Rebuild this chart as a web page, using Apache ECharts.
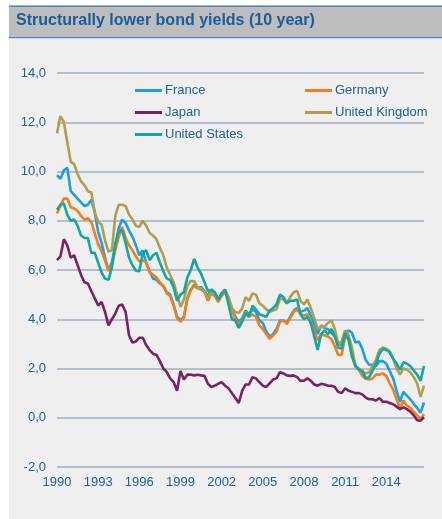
<!DOCTYPE html>
<html>
<head>
<meta charset="utf-8">
<script src="https://cdn.jsdelivr.net/npm/echarts@6/dist/echarts.min.js"></script>
<style>
  html, body { margin: 0; padding: 0; background: #fff; }
  #chart { width: 442px; height: 519px; }
</style>
</head>
<body>
<div id="chart"></div>
<script>
// quarterly observations, 1990 Q1 .. 2016 Q4
const quarters = [
  '1990Q1','1990Q2','1990Q3','1990Q4','1991Q1','1991Q2','1991Q3','1991Q4',
  '1992Q1','1992Q2','1992Q3','1992Q4','1993Q1','1993Q2','1993Q3','1993Q4',
  '1994Q1','1994Q2','1994Q3','1994Q4','1995Q1','1995Q2','1995Q3','1995Q4',
  '1996Q1','1996Q2','1996Q3','1996Q4','1997Q1','1997Q2','1997Q3','1997Q4',
  '1998Q1','1998Q2','1998Q3','1998Q4','1999Q1','1999Q2','1999Q3','1999Q4',
  '2000Q1','2000Q2','2000Q3','2000Q4','2001Q1','2001Q2','2001Q3','2001Q4',
  '2002Q1','2002Q2','2002Q3','2002Q4','2003Q1','2003Q2','2003Q3','2003Q4',
  '2004Q1','2004Q2','2004Q3','2004Q4','2005Q1','2005Q2','2005Q3','2005Q4',
  '2006Q1','2006Q2','2006Q3','2006Q4','2007Q1','2007Q2','2007Q3','2007Q4',
  '2008Q1','2008Q2','2008Q3','2008Q4','2009Q1','2009Q2','2009Q3','2009Q4',
  '2010Q1','2010Q2','2010Q3','2010Q4','2011Q1','2011Q2','2011Q3','2011Q4',
  '2012Q1','2012Q2','2012Q3','2012Q4','2013Q1','2013Q2','2013Q3','2013Q4',
  '2014Q1','2014Q2','2014Q3','2014Q4','2015Q1','2015Q2','2015Q3','2015Q4',
  '2016Q1','2016Q2','2016Q3','2016Q4'
];
// labelled years on the x axis
const tickYears = ['1990', '1993', '1996', '1999', '2002', '2005', '2008', '2011', '2014'];

const france = [
  9.85, 9.7, 10.05, 10.15, 9.2, 9.05, 8.9, 8.75,
  8.6, 8.65, 8.85, 8.35, 7.55, 7.1, 6.5, 6.0,
  6.3, 7.0, 7.7, 8.05, 7.9, 7.6, 7.35, 7.0,
  6.6, 6.8, 6.3, 5.95, 5.65, 5.6, 5.45, 5.35,
  5.1, 5.0, 4.6, 4.1, 3.95, 4.1, 4.85, 5.2,
  5.4, 5.3, 5.3, 5.15, 4.95, 5.2, 5.05, 4.8,
  5.0, 5.2, 4.85, 4.45, 4.1, 3.9, 4.05, 4.35,
  4.2, 4.4, 4.3, 3.95, 3.85, 3.5, 3.3, 3.4,
  3.6, 3.95, 3.95, 3.85, 4.1, 4.35, 4.45, 4.3,
  4.35, 4.45, 4.15, 3.8, 3.4, 3.75, 3.65, 3.6,
  3.45, 3.3, 3.0, 2.95, 3.4, 3.55, 3.45, 3.05,
  3.1, 2.8, 2.35, 2.15, 2.15, 2.1, 2.3, 2.3,
  2.2, 1.9, 1.6, 1.1, 0.65, 1.05, 0.9, 0.75,
  0.57, 0.4, 0.2, 0.62
];
const germany = [
  8.3, 8.6, 8.9, 8.9, 8.55, 8.5, 8.4, 8.2,
  8.05, 8.1, 7.95, 7.5, 7.05, 6.75, 6.4, 5.95,
  6.2, 6.8, 7.35, 7.75, 7.3, 7.0, 6.8, 6.55,
  6.35, 6.4, 6.3, 5.9, 5.8, 5.7, 5.5, 5.35,
  5.05, 4.95, 4.55, 4.05, 3.9, 4.05, 4.8, 5.2,
  5.35, 5.25, 5.25, 5.1, 4.75, 5.05, 4.95, 4.7,
  4.95, 5.1, 4.8, 4.4, 4.0, 3.8, 4.0, 4.3,
  4.1, 4.2, 4.1, 3.75, 3.6, 3.4, 3.2, 3.35,
  3.5, 3.9, 3.95, 3.8, 4.05, 4.3, 4.4, 4.2,
  4.15, 4.2, 3.85, 3.55, 3.15, 3.4, 3.35, 3.3,
  3.2, 2.9, 2.55, 2.55, 3.3, 3.2, 2.5, 2.1,
  1.95, 1.7, 1.58, 1.55, 1.6, 1.75, 1.75, 1.8,
  1.7, 1.4, 1.15, 0.75, 0.4, 0.7, 0.5, 0.4,
  0.25, 0.1, -0.05, 0.15
];
const japan = [
  6.4, 6.55, 7.25, 7.0, 6.5, 6.6, 6.2, 5.8,
  5.5, 5.45, 5.15, 4.85, 4.56, 4.7, 4.3, 3.75,
  4.0, 4.23, 4.55, 4.6, 4.3, 3.35, 3.05, 3.1,
  3.25, 3.25, 2.95, 2.75, 2.6, 2.55, 2.3, 2.0,
  1.85, 1.6, 1.45, 1.1, 1.9, 1.55, 1.75, 1.75,
  1.72, 1.75, 1.72, 1.7, 1.38, 1.25, 1.3, 1.38,
  1.45, 1.3, 1.2, 1.0, 0.8, 0.6, 1.1, 1.35,
  1.35, 1.65, 1.6, 1.45, 1.3, 1.25, 1.4, 1.55,
  1.6, 1.85, 1.8, 1.72, 1.7, 1.72, 1.65, 1.5,
  1.5, 1.6, 1.5, 1.35, 1.3, 1.38, 1.35, 1.3,
  1.3, 1.25, 1.05, 1.0, 1.2, 1.1, 1.05, 1.0,
  1.0, 0.95, 0.82, 0.75, 0.75, 0.7, 0.8, 0.65,
  0.65, 0.6, 0.55, 0.45, 0.35, 0.42, 0.35, 0.25,
  0.1, -0.1, -0.12, 0.02
];
const unitedKingdom = [
  11.55, 12.25, 12.0, 11.2, 10.4, 10.3, 9.9, 9.6,
  9.45, 9.2, 9.15, 8.35, 7.95, 7.85, 7.2, 6.75,
  6.8, 8.2, 8.65, 8.65, 8.6, 8.25, 8.05, 7.8,
  7.75, 8.0, 7.8, 7.5, 7.4, 7.25, 6.9, 6.6,
  6.1, 5.8, 5.5, 5.0, 4.5, 4.8, 5.35, 5.55,
  5.55, 5.3, 5.2, 5.15, 4.85, 5.15, 5.0, 4.8,
  5.05, 5.2, 4.9, 4.45, 4.3, 4.25, 4.45, 4.9,
  4.75, 5.05, 5.0, 4.65, 4.55, 4.4, 4.3, 4.35,
  4.4, 4.85, 4.8, 4.65, 4.9, 5.1, 5.15, 4.75,
  4.6, 4.8, 4.45, 4.05, 3.6, 3.7, 3.7, 3.85,
  3.95, 3.6, 3.0, 3.1, 3.55, 3.35, 2.85, 2.1,
  2.0, 1.9, 1.8, 1.85, 2.1, 2.35, 2.75, 2.85,
  2.8, 2.7, 2.4, 2.0, 1.75, 2.0, 1.95, 1.85,
  1.65, 1.4, 0.85, 1.3
];
const unitedStates = [
  8.45, 8.65, 8.7, 8.25, 8.0, 8.05, 7.8, 7.4,
  7.3, 7.3, 6.7, 6.7, 6.3, 5.9, 5.65, 5.6,
  6.1, 7.05, 7.6, 7.6, 7.1, 6.5, 6.2, 5.97,
  5.95, 6.7, 6.8, 6.4, 6.6, 6.7, 6.3, 5.95,
  5.65, 5.6, 5.3, 4.75, 5.0, 5.1, 5.7, 6.0,
  6.45, 6.1, 5.85, 5.5, 5.15, 5.2, 5.1, 4.8,
  5.05, 5.2, 4.6, 4.0, 3.95, 3.65, 3.9, 4.25,
  4.1, 4.55, 4.4, 4.2, 4.15, 4.1, 4.35, 4.45,
  4.6, 5.0, 4.9, 4.65, 4.75, 4.75, 4.8, 4.2,
  4.0, 4.1, 3.85, 3.3, 2.75, 3.4, 3.55, 3.4,
  3.6, 3.3, 2.85, 2.8, 3.45, 3.2, 2.5, 2.1,
  1.95, 1.9, 1.6, 1.65, 1.9, 2.2, 2.6, 2.8,
  2.75, 2.65, 2.4, 2.2, 1.95, 2.25, 2.2, 2.1,
  1.92, 1.75, 1.5, 2.1
];

const textBlue = '#21609e';
const chart = echarts.init(document.getElementById('chart'));

const line = (name, data, color) => ({
  name: name,
  type: 'line',
  data: data,
  showSymbol: false,
  symbol: 'none',
  lineStyle: { color: color, width: 2.6 },
  itemStyle: { color: color }
});

const legendBase = {
  orient: 'vertical',
  top: 79,
  itemWidth: 27,
  itemHeight: 3,
  itemGap: 9,
  icon: 'rect',
  textStyle: { color: textBlue, fontSize: 13, fontFamily: 'Liberation Sans, Arial, sans-serif', padding: [0, 0, 0, -2] }
};

chart.setOption({
  backgroundColor: '#ffffff',
  animation: false,
  graphic: [
    // panel background
    { type: 'rect', z: -10, shape: { x: 9, y: 38, width: 433, height: 481 }, style: { fill: '#efefef' } },
    // title bar
    { type: 'rect', z: -10, shape: { x: 9, y: 6, width: 433, height: 32 }, style: { fill: '#bdbdbd' } },
    { type: 'rect', z: -9, shape: { x: 9, y: 5.5, width: 433, height: 1.2 }, style: { fill: '#2f72b4' } },
    { type: 'rect', z: -9, shape: { x: 9, y: 37, width: 433, height: 1.3 }, style: { fill: '#4a86c2' } },
    {
      type: 'text', z: 5, left: 16, top: 13,
      style: {
        text: 'Structurally lower bond yields (10 year)',
        fill: '#1b5c9b',
        font: 'bold 16px "Liberation Sans", Arial, sans-serif'
      }
    }
  ],
  legend: [
    Object.assign({}, legendBase, { left: 130, data: ['France', 'Japan', 'United States'] }),
    Object.assign({}, legendBase, { left: 300, data: ['Germany', 'United Kingdom'] })
  ],
  grid: { left: 57, right: 18, top: 73, bottom: 52 },
  xAxis: {
    type: 'category',
    data: quarters,
    boundaryGap: false,
    axisLine: { show: false },
    axisTick: { show: false },
    splitLine: { show: false },
    axisLabel: {
      color: textBlue,
      fontSize: 13,
      fontFamily: 'Liberation Sans, Arial, sans-serif',
      margin: 9,
      interval: (i, v) => v.endsWith('Q1') && tickYears.includes(v.slice(0, 4)),
      formatter: v => v.slice(0, 4)
    }
  },
  yAxis: {
    type: 'value',
    min: -2,
    max: 14,
    interval: 2,
    axisLine: { show: false },
    axisTick: { show: false },
    axisLabel: {
      color: textBlue,
      fontSize: 13,
      fontFamily: 'Liberation Sans, Arial, sans-serif',
      margin: 11,
      formatter: v => v.toFixed(1).replace('.', ',')
    },
    splitLine: { lineStyle: { color: '#a2aec4', width: 1.6 } }
  },
  series: [
    line('France', france, '#1a9fe3'),
    line('Germany', germany, '#f27e1c'),
    line('Japan', japan, '#7a2263'),
    line('United Kingdom', unitedKingdom, '#ae9e4e'),
    line('United States', unitedStates, '#12a7a1')
  ]
});
</script>
</body>
</html>
